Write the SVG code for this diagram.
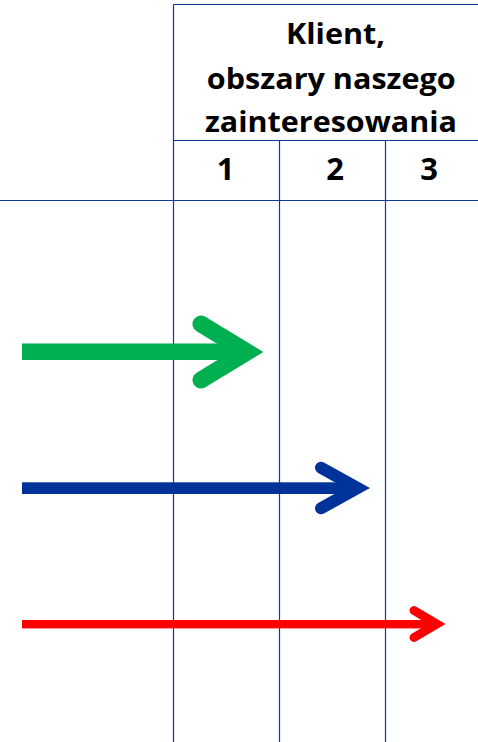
<svg xmlns="http://www.w3.org/2000/svg" width="478" height="742" viewBox="0 0 478 742">
<style>
.grid{stroke:#0B3A9A;stroke-width:1.2;fill:none}
.hdr{font-family:"Open Sans","Liberation Sans",Arial,sans-serif;font-weight:bold;font-size:29px;fill:#000;text-anchor:middle}
.num{font-family:"Open Sans","Liberation Sans",Arial,sans-serif;font-weight:bold;font-size:31px;fill:#000;text-anchor:middle}
.head{fill:none;stroke-linecap:round;stroke-linejoin:miter}
</style>
<rect width="478" height="742" fill="#fff"/>
<g id="table">
<line class="grid" x1="173.5" y1="4.5" x2="478" y2="4.5"/>
<line class="grid" x1="173.5" y1="4.5" x2="173.5" y2="742"/>
<line class="grid" x1="173.5" y1="140.5" x2="478" y2="140.5"/>
<line class="grid" x1="0" y1="200.5" x2="478" y2="200.5"/>
<line class="grid" x1="279.5" y1="140.5" x2="279.5" y2="742"/>
<line class="grid" x1="385.5" y1="140.5" x2="385.5" y2="742"/>
</g>
<g id="header">
<text class="hdr" x="335.5" y="43.5" textLength="99" lengthAdjust="spacingAndGlyphs">Klient,</text>
<text class="hdr" x="331.3" y="88.5" textLength="249" lengthAdjust="spacingAndGlyphs">obszary naszego</text>
<text class="hdr" x="331" y="132" textLength="252" lengthAdjust="spacingAndGlyphs">zainteresowania</text>
</g>
<g id="col1"><text class="num" x="225.5" y="180">1</text></g>
<g id="col2"><text class="num" x="335" y="180">2</text></g>
<g id="col3"><text class="num" x="429" y="180">3</text></g>
<g id="connectors">
<g id="arrow-green">
<rect x="22" y="343.5" width="226" height="16.5" fill="#00B050"/>
<polyline class="head" points="201,324 247,352 201,380" stroke="#00B050" stroke-width="17"/>
</g>
<g id="arrow-blue">
<rect x="22" y="482.3" width="336" height="11.7" fill="#003399"/>
<polyline class="head" points="321,467.7 357.6,488 321,508.3" stroke="#003399" stroke-width="12"/>
</g>
<g id="arrow-red">
<rect x="22" y="620" width="415" height="8.4" fill="#FF0000"/>
<polyline class="head" points="414,610.5 436.7,624 414,637.5" stroke="#FF0000" stroke-width="9"/>
</g>
</g>
</svg>
